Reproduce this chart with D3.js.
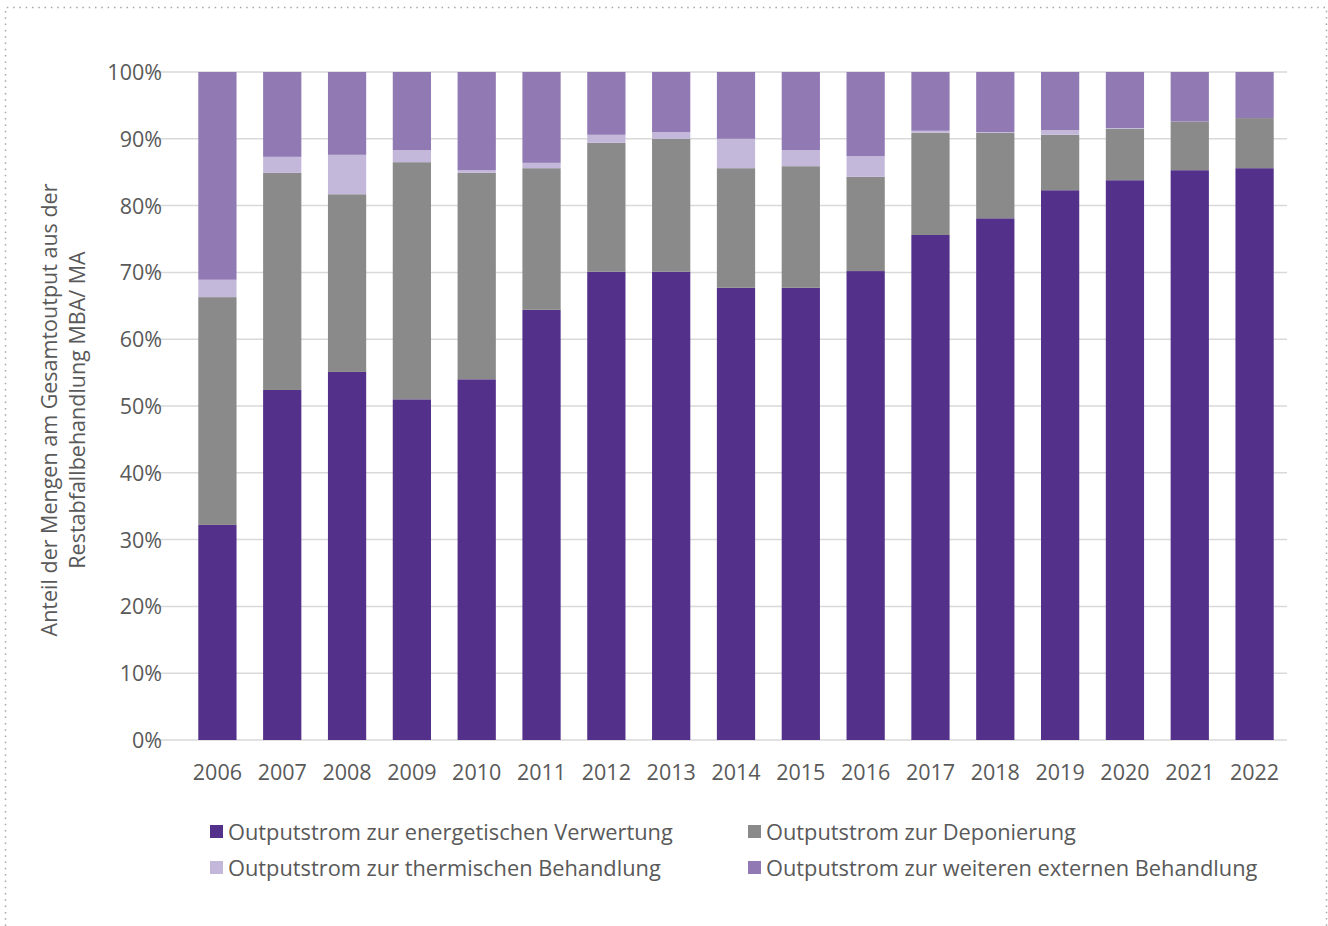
<!DOCTYPE html>
<html><head><meta charset="utf-8">
<script src="https://cdn.jsdelivr.net/npm/d3@7"></script>
<style>body{margin:0;background:#fff;}svg{display:block;}</style>
</head><body>
<svg id="chart" width="1328" height="926"></svg>
<script>
const years = ["2006","2007","2008","2009","2010","2011","2012","2013","2014","2015","2016","2017","2018","2019","2020","2021","2022"];
const seriesNames = ["Outputstrom zur energetischen Verwertung","Outputstrom zur Deponierung","Outputstrom zur thermischen Behandlung","Outputstrom zur weiteren externen Behandlung"];
const energetisch = [32.2,52.4,55.1,51.0,54.0,64.4,70.1,70.1,67.7,67.7,70.2,75.6,78.1,82.3,83.8,85.3,85.6];
const deponierung = [34.1,32.5,26.6,35.5,30.9,21.2,19.3,19.9,17.9,18.2,14.1,15.3,12.8,8.3,7.7,7.3,7.5];
const thermisch   = [2.6,2.4,5.9,1.8,0.4,0.8,1.2,1.0,4.4,2.4,3.1,0.3,0.1,0.7,0.1,0.0,0.0];
const extern      = [31.1,12.7,12.4,11.7,14.7,13.6,9.4,9.0,10.0,11.7,12.6,8.8,9.0,8.7,8.4,7.4,6.9];
const yTicks = [0,10,20,30,40,50,60,70,80,90,100];
const colors = ["#53308a","#898a89","#c4b8da","#917ab4"];

(function(){
const svg = d3.select("#chart");
const font = "'Open Sans', 'Noto Sans', sans-serif";
const textColor = "#595959";

svg.append("path").attr("d","M5.5,926 V7.5 H1326.5 V926")
  .attr("fill","none").attr("stroke","#a6a6a6").attr("stroke-width",1.5).attr("stroke-dasharray","1.5,4.8");

const mLeft = 185, mRight = 1287, mTop = 72, mBottom = 740;
const x = d3.scaleBand().domain(years).range([mLeft,mRight]).paddingInner(0.41).paddingOuter(0.205);
const y = d3.scaleLinear().domain([0,100]).range([mBottom,mTop]);

svg.append("g").selectAll("line").data(yTicks).join("line")
  .attr("x1",mLeft-30).attr("x2",mRight).attr("y1",d=>y(d)).attr("y2",d=>y(d))
  .attr("stroke","#d9d9d9").attr("stroke-width",1.5);

const data = years.map((yr,i)=>({year:yr, s0:energetisch[i], s1:deponierung[i], s2:thermisch[i], s3:extern[i]}));
const stacked = d3.stack().keys(["s0","s1","s2","s3"])(data);

svg.append("g").selectAll("g").data(stacked).join("g")
  .attr("fill",(d,i)=>colors[i])
  .selectAll("rect").data(d=>d).join("rect")
  .attr("x",d=>x(d.data.year))
  .attr("width",x.bandwidth())
  .attr("y",d=>y(Math.min(100,d[1])))
  .attr("height",d=>Math.max(0,y(d[0])-y(Math.min(100,d[1]))));

const yAxis = d3.axisLeft(y).tickValues(yTicks).tickFormat(d=>d+"%").tickSize(0).tickPadding(0);
const ga = svg.append("g").attr("transform",`translate(162,0)`).call(yAxis);
ga.select(".domain").remove();
ga.selectAll("text").attr("font-family",font).attr("font-size",21.5).attr("fill",textColor).attr("dy","0.35em");

const xAxis = d3.axisBottom(x).tickSize(0).tickPadding(0);
const gx = svg.append("g").attr("transform",`translate(0,${mBottom})`).call(xAxis);
gx.select(".domain").remove();
gx.selectAll("text").attr("font-family",font).attr("font-size",21.5).attr("fill",textColor).attr("y",32).attr("dy","0.35em");

const yt = svg.append("text").attr("transform","translate(64,410) rotate(-90)")
  .attr("text-anchor","middle").attr("font-family",font).attr("font-size",21.5).attr("fill",textColor);
yt.append("tspan").attr("x",0).attr("y",-7).text("Anteil der Mengen am Gesamtoutput aus der");
yt.append("tspan").attr("x",0).attr("y",21).text("Restabfallbehandlung MBA/ MA");

const legPos = [[210,832],[748,832],[210,868],[748,868]];
const lg = svg.append("g").selectAll("g").data(seriesNames).join("g")
  .attr("transform",(d,i)=>`translate(${legPos[i][0]},${legPos[i][1]})`);
lg.append("rect").attr("x",0).attr("y",-7).attr("width",13).attr("height",13).attr("fill",(d,i)=>colors[i]);
lg.append("text").attr("x",18).attr("y",0).attr("dy","0.35em").attr("font-family",font).attr("font-size",21.8)
  .attr("fill",textColor).text(d=>d);
})();
</script>
</body></html>
